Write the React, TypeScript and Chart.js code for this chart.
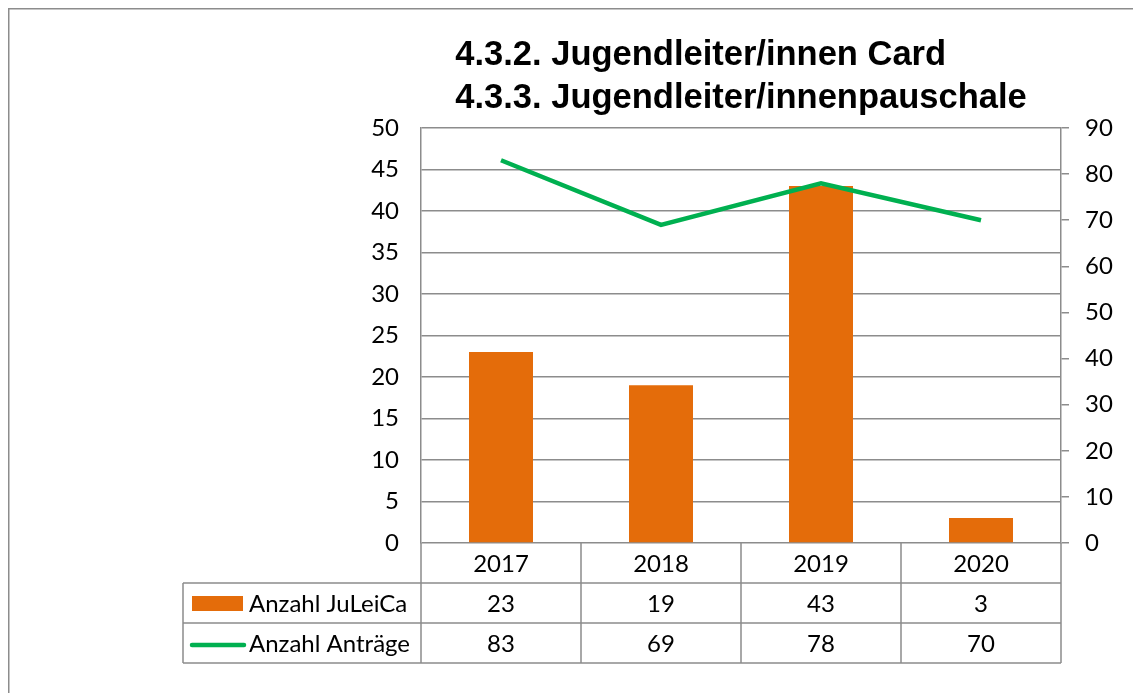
import React, { useEffect, useRef } from "react";
import { Chart, registerables } from "chart.js";

Chart.register(...registerables);

const titleLines = ["4.3.2. Jugendleiter/innen Card", "4.3.3. Jugendleiter/innenpauschale"];
const categories = ["2017", "2018", "2019", "2020"];
const juleicaLabel = "Anzahl JuLeiCa";
const juleicaValues = [23, 19, 43, 3];
const antraegeLabel = "Anzahl Anträge";
const antraegeValues = [83, 69, 78, 70];
const leftMax = 50;
const leftStep = 5;
const rightMax = 90;
const rightStep = 10;

const ORANGE = "#E46C0A";
const GREEN = "#00B050";
const GRID = "#8C8C8C";
const FONT = "Lato";
const FSIZE = 24;

const W = 1133;
const H = 685;

const tablePlugin = {
  id: "tablePlugin",
  afterDraw(chart: any) {
    const ctx = chart.ctx as CanvasRenderingContext2D;
    const area = chart.chartArea;
    const xs = chart.scales.x;
    const n = categories.length;
    const colW = (area.right - area.left) / n;
    const rowH = 40;
    const legendLeft = 175;

    ctx.save();
    // outer chart border (top & left visible)
    ctx.strokeStyle = GRID;
    ctx.lineWidth = 1.5;
    ctx.beginPath();
    ctx.moveTo(0.75, H);
    ctx.lineTo(0.75, 0.75);
    ctx.lineTo(W, 0.75);
    ctx.stroke();

    // title
    ctx.fillStyle = "#000";
    ctx.font = "bold 34.5px 'Liberation Sans', Arial, sans-serif";
    ctx.textBaseline = "alphabetic";
    ctx.textAlign = "left";
    let maxW = 0;
    titleLines.forEach((l) => (maxW = Math.max(maxW, ctx.measureText(l).width)));
    const tx = (area.left + area.right) / 2 - maxW / 2;
    titleLines.forEach((l, i) => ctx.fillText(l, tx, 57 + i * 43));

    // table
    const top = area.bottom;
    ctx.strokeStyle = GRID;
    ctx.lineWidth = 1.5;
    ctx.beginPath();
    ctx.moveTo(legendLeft, top + rowH);
    ctx.lineTo(area.right, top + rowH);
    ctx.moveTo(legendLeft, top + 2 * rowH);
    ctx.lineTo(area.right, top + 2 * rowH);
    ctx.moveTo(legendLeft, top + 3 * rowH);
    ctx.lineTo(area.right, top + 3 * rowH);
    for (let i = 0; i <= n; i++) {
      const x = area.left + i * colW;
      ctx.moveTo(x, top);
      ctx.lineTo(x, top + 3 * rowH);
    }
    ctx.moveTo(legendLeft, top + rowH);
    ctx.lineTo(legendLeft, top + 3 * rowH);
    ctx.stroke();

    ctx.font = `${FSIZE}px ${FONT}`;
    ctx.textAlign = "center";
    ctx.textBaseline = "middle";
    ctx.fillStyle = "#000";
    categories.forEach((c, i) => {
      const cx = xs.getPixelForValue(i);
      ctx.fillText(c, cx, top + rowH / 2 + 1);
      ctx.fillText(String(juleicaValues[i]), cx, top + rowH * 1.5 + 1);
      ctx.fillText(String(antraegeValues[i]), cx, top + rowH * 2.5 + 1);
    });

    // legend keys
    ctx.fillStyle = ORANGE;
    ctx.fillRect(legendLeft + 9, top + rowH + 13, 51, 15);
    ctx.strokeStyle = GREEN;
    ctx.lineWidth = 4.5;
    ctx.lineCap = "round";
    ctx.beginPath();
    ctx.moveTo(legendLeft + 9, top + rowH * 2.5 + 2);
    ctx.lineTo(legendLeft + 61, top + rowH * 2.5 + 2);
    ctx.stroke();

    ctx.fillStyle = "#000";
    ctx.textAlign = "left";
    ctx.fillText(juleicaLabel, legendLeft + 66, top + rowH * 1.5 + 1);
    ctx.fillText(antraegeLabel, legendLeft + 66, top + rowH * 2.5 + 1);
    ctx.restore();
  },
};

export default function App() {
  const ref = useRef<HTMLCanvasElement>(null);
  useEffect(() => {
    if (!ref.current) return;
    const chart = new Chart(ref.current, {
      type: "bar",
      data: {
        labels: categories,
        datasets: [
          {
            type: "line",
            label: antraegeLabel,
            data: antraegeValues,
            yAxisID: "y1",
            borderColor: GREEN,
            backgroundColor: GREEN,
            borderWidth: 4.5,
            pointRadius: 0,
            tension: 0,
            order: 0,
          } as any,
          {
            type: "bar",
            label: juleicaLabel,
            data: juleicaValues,
            yAxisID: "y",
            backgroundColor: ORANGE,
            categoryPercentage: 1,
            barPercentage: 0.4,
            order: 1,
          },
        ],
      },
      options: {
        responsive: false,
        animation: false,
        layout: { padding: { top: 120, bottom: 150, left: 0, right: 0 } },
        plugins: {
          legend: { display: false },
          title: { display: false },
          tooltip: { enabled: false },
        },
        scales: {
          x: { display: false, offset: true },
          y: {
            position: "left",
            min: 0,
            max: leftMax,
            ticks: { stepSize: leftStep, padding: 22, color: "#000", font: { family: FONT, size: FSIZE } },
            grid: { color: GRID, lineWidth: 1.5, drawTicks: false },
            border: { color: GRID, width: 1.5 },
            afterFit: (s: any) => {
              s.width = 413;
            },
          },
          y1: {
            position: "right",
            min: 0,
            max: rightMax,
            ticks: { stepSize: rightStep, padding: 16, color: "#000", font: { family: FONT, size: FSIZE } },
            grid: { drawOnChartArea: false, color: GRID, lineWidth: 1.5, tickLength: 8 },
            border: { color: GRID, width: 1.5 },
            afterFit: (s: any) => {
              s.width = 80;
            },
          },
        },
      },
      plugins: [tablePlugin],
    });
    return () => chart.destroy();
  }, []);
  return <canvas ref={ref} width={W} height={H} style={{ display: "block" }} />;
}
